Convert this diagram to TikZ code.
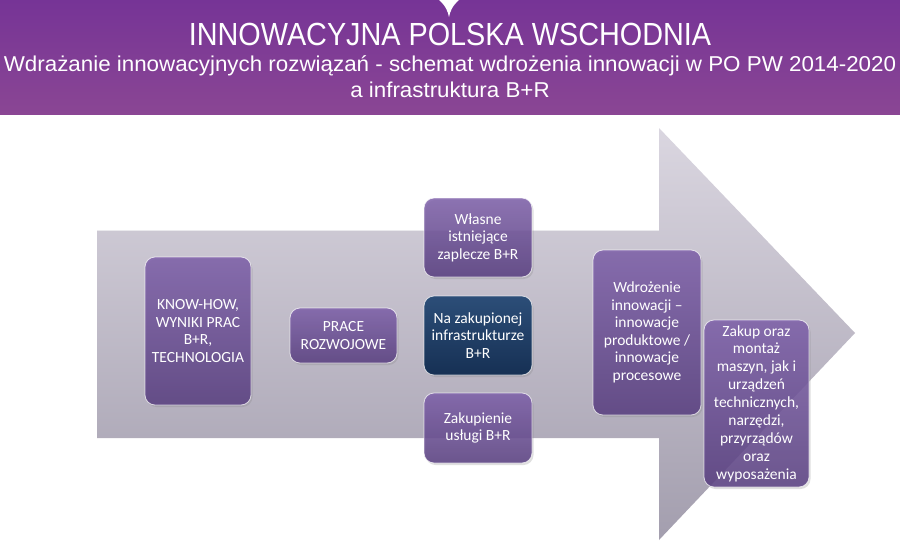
\documentclass[tikz,border=0pt]{standalone}
\usepackage{fontspec}
\setmainfont{Liberation Sans}
\newfontfamily\hdrfont[FakeStretch=0.90]{Liberation Sans}
\newfontfamily\subfont[FakeStretch=1.04]{Liberation Sans}
\newfontfamily\boxfont{Carlito}
\usetikzlibrary{shadows}
\definecolor{bandtop}{RGB}{118,52,150}
\definecolor{bandmid}{RGB}{158,62,152}
\definecolor{bandbot}{RGB}{138,70,148}
\definecolor{arrtop}{RGB}{218,214,224}
\definecolor{arrbot}{RGB}{163,158,174}
\definecolor{boxtop}{RGB}{126,96,170}
\definecolor{boxbot}{RGB}{88,62,128}
\definecolor{navytop}{RGB}{44,78,120}
\definecolor{navybot}{RGB}{22,48,84}
\tikzset{
  card/.style={rectangle, rounded corners=10pt, draw=white, draw opacity=0.7, line width=0.8pt,
    top color=boxtop, bottom color=boxbot, fill opacity=0.85, text opacity=1,
    text=white, align=center, inner sep=2pt,
    font=\boxfont\fontsize{15.5}{17.5}\selectfont,
    drop shadow={opacity=0.25, shadow xshift=1.5pt, shadow yshift=-2pt}},
  navycard/.style={card, top color=navytop, bottom color=navybot, fill opacity=1},
  hdrtext/.style={text=white, anchor=base, inner sep=0pt}
}
\begin{document}
\begin{tikzpicture}[x=1pt,y=-1pt]
\useasboundingbox (0,0) rectangle (900,544);
\fill[white] (0,0) rectangle (900,544);
% header band
\shade[top color=bandtop, middle color=bandmid, bottom color=bandbot] (0,0) rectangle (900,114);
\fill[white] (439,0) .. controls (446,6) and (448,12) .. (449,17) .. controls (450,12) and (452,6) .. (459,0) -- cycle;
\node[hdrtext, font=\hdrfont\fontsize{32}{32}\selectfont] (title) at (450,45) {INNOWACYJNA POLSKA WSCHODNIA};
\node[hdrtext, font=\subfont\fontsize{21.5}{21.5}\selectfont] (sub1) at (450,71) {Wdrażanie innowacyjnych rozwiązań - schemat wdrożenia innowacji w PO PW 2014-2020};
\node[hdrtext, font=\subfont\fontsize{21.5}{21.5}\selectfont] (sub2) at (450,97) {a infrastruktura B+R};
% big arrow
\shade[top color=arrtop, bottom color=arrbot]
  (97,230) -- (659,230) -- (659,128) -- (855,333) -- (659,540) -- (659,438) -- (97,438) -- cycle;
\draw[white, opacity=0.6, line width=0.8pt] (97,230) -- (659,230);
% boxes
\node[card, minimum width=106pt, minimum height=148pt] (know) at (198,331) {KNOW-HOW,\\WYNIKI PRAC\\B+R,\\TECHNOLOGIA};
\node[card, minimum width=107pt, minimum height=55pt] (prace) at (343.5,335.5) {PRACE\\ROZWOJOWE};
\node[card, minimum width=108pt, minimum height=79pt] (wlasne) at (478,237.5) {Własne\\istniejące\\zaplecze B+R};
\node[navycard, minimum width=108pt, minimum height=79pt] (naz) at (478,335.5) {Na zakupionej\\infrastrukturze\\B+R};
\node[card, minimum width=108pt, minimum height=70pt] (zakupienie) at (478,428) {Zakupienie\\usługi B+R};
\node[card, minimum width=108pt, minimum height=165pt] (wdroz) at (647,332.5) {Wdrożenie\\innowacji –\\innowacje\\produktowe /\\innowacje\\procesowe};
\node[card, minimum width=105pt, minimum height=167pt, font=\boxfont\fontsize{15.5}{17.9}\selectfont] (zakup) at (756.5,403.5) {Zakup oraz\\montaż\\maszyn, jak i\\urządzeń\\technicznych,\\narzędzi,\\przyrządów\\oraz\\wyposażenia};
\end{tikzpicture}
\end{document}
